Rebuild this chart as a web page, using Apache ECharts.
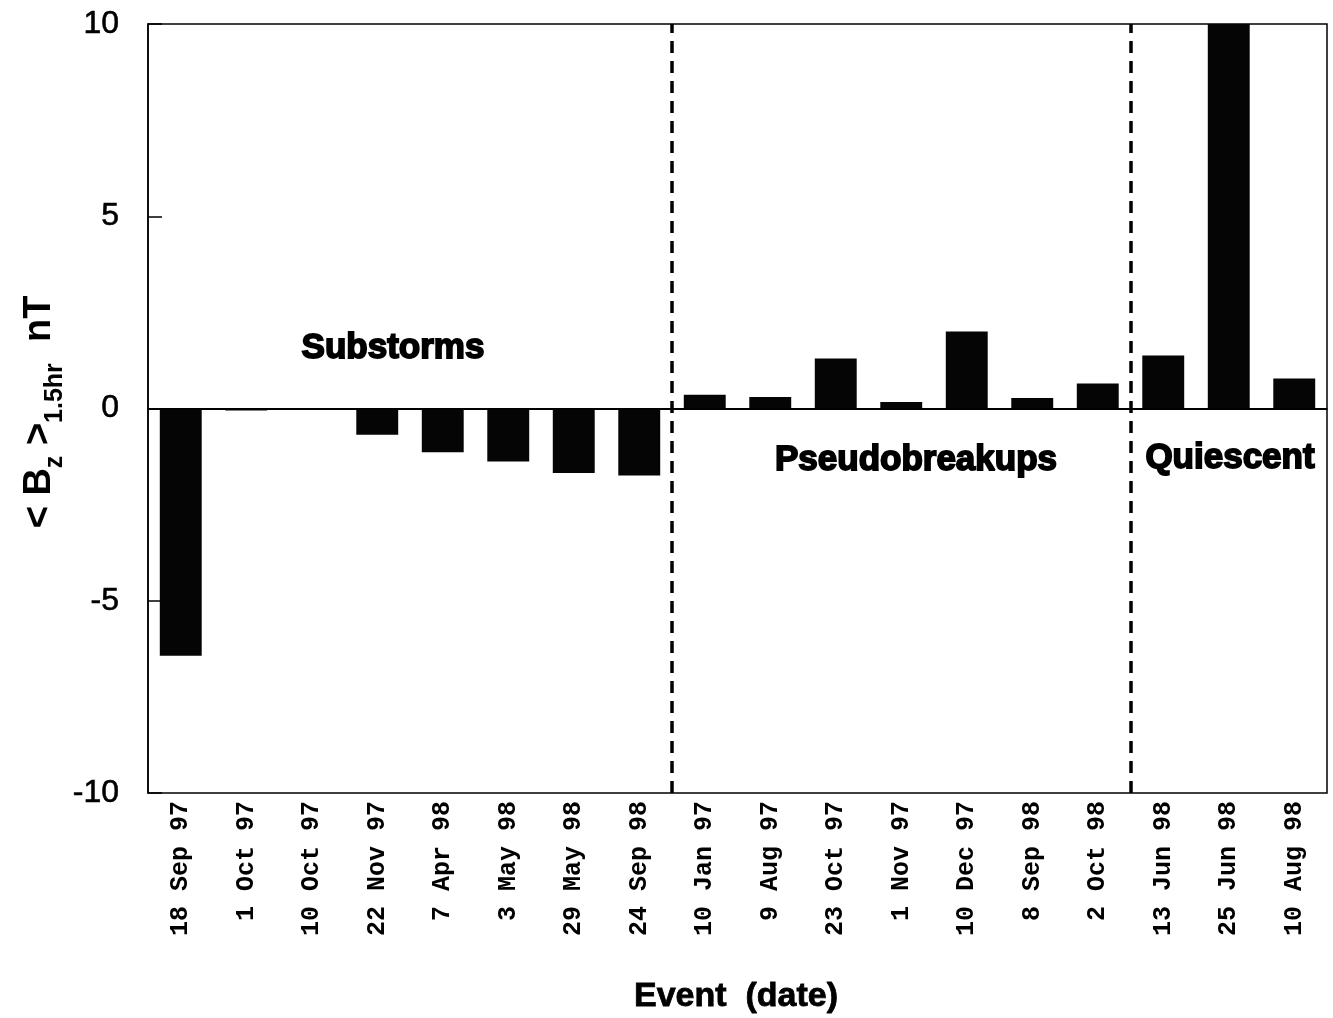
<!DOCTYPE html>
<html>
<head>
<meta charset="utf-8">
<script src="https://cdn.jsdelivr.net/npm/echarts@6/dist/echarts.min.js"></script>
<style>
  html, body { margin: 0; padding: 0; background: #fff; }
  #chart { width: 1333px; height: 1018px; }
</style>
</head>
<body>
<div id="chart"></div>
<script>
// Event dates, grouped as substorms / pseudobreakups / quiescent periods
const events = [
  '18 Sep 97', '1 Oct 97', '10 Oct 97', '22 Nov 97', '7 Apr 98', '3 May 98',
  '29 May 98', '24 Sep 98',
  '10 Jan 97', '9 Aug 97', '23 Oct 97', '1 Nov 97', '10 Dec 97', '8 Sep 98',
  '2 Oct 98',
  '13 Jun 98', '25 Jun 98', '10 Aug 98'
];
// Mean Bz over 1.5 hr (nT); 25 Jun 98 runs off the top of the scale
const bzMean = [
  -6.43, -0.05, 0.0, -0.68, -1.14, -1.38, -1.68, -1.74,
  0.36, 0.3, 1.3, 0.17, 2.0, 0.27, 0.65,
  1.38, 10.5, 0.78
];
// Group boundaries, in category-count units along the axis
const groupBreaks = [8, 15];
const groupNames = ['Substorms', 'Pseudobreakups', 'Quiescent'];
const yTicks = { min: -10, max: 10, step: 5 };

const chart = echarts.init(document.getElementById('chart'));

const heavy = {
  fontFamily: 'Liberation Sans, Arial, sans-serif',
  fontWeight: 'bold',
  fontSize: 35,
  fill: '#000',
  stroke: '#000',
  lineWidth: 1.8
};

function groupLabel(text, x, y) {
  return {
    type: 'text', x: x, y: y,
    style: Object.assign({ text: text, align: 'center', verticalAlign: 'middle' }, heavy)
  };
}

chart.setOption({
  animation: false,
  backgroundColor: '#fff',
  grid: {
    left: 148, right: 6, top: 24, bottom: 225,
    show: true, borderColor: '#000', borderWidth: 1.5
  },
  xAxis: [
    {
      type: 'category',
      data: events,
      axisLine: { lineStyle: { color: '#000', width: 1.5 } },
      axisTick: { show: false },
      axisLabel: {
        interval: 0,
        rotate: 90,
        margin: 8,
        color: '#000',
        fontFamily: 'Liberation Mono, Courier New, monospace',
        fontWeight: 'bold',
        fontSize: 25
      }
    },
    {
      type: 'value',
      min: 0,
      max: events.length,
      show: false
    }
  ],
  yAxis: {
    type: 'value',
    min: yTicks.min,
    max: yTicks.max,
    interval: yTicks.step,
    axisLine: { show: true, lineStyle: { color: '#000', width: 1.5 } },
    axisTick: { show: true, inside: true, length: 14, lineStyle: { color: '#000', width: 1.5 } },
    splitLine: { show: false },
    axisLabel: {
      margin: 29,
      color: '#000',
      fontFamily: 'Liberation Sans, Arial, sans-serif',
      fontSize: 32,
      textBorderColor: '#000',
      textBorderWidth: 0.6
    }
  },
  series: [
    {
      type: 'bar',
      data: bzMean,
      barWidth: '64%',
      itemStyle: { color: '#050505' },
      markLine: {
        silent: true,
        symbol: 'none',
        label: { show: false },
        lineStyle: { color: '#000', width: 2, type: 'solid' },
        data: [{ yAxis: 0 }]
      }
    },
    {
      type: 'line',
      xAxisIndex: 1,
      data: [],
      markLine: {
        silent: true,
        symbol: 'none',
        label: { show: false },
        lineStyle: { color: '#000', width: 3.5, type: [12, 8] },
        data: groupBreaks.map(b => ({ xAxis: b }))
      }
    }
  ],
  graphic: [
    groupLabel(groupNames[0], 393, 348),
    groupLabel(groupNames[1], 916, 460),
    groupLabel(groupNames[2], 1230, 458),
    {
      type: 'text', x: 736, y: 997,
      style: {
        text: 'Event  (date)', align: 'center', verticalAlign: 'middle',
        fontFamily: 'Liberation Sans, Arial, sans-serif', fontWeight: 'bold',
        fontSize: 34, fill: '#000', stroke: '#000', lineWidth: 0.8
      }
    },
    {
      type: 'text', x: 40, y: 412, rotation: Math.PI / 2,
      style: {
        text: '{m|< B}{s|z}{m| >}{s|1.5hr}{m|  nT}',
        align: 'center', verticalAlign: 'middle',
        fill: '#000',
        rich: {
          m: { fontFamily: 'Liberation Sans, Arial, sans-serif', fontWeight: 'bold',
               fontSize: 38, lineHeight: 56, verticalAlign: 'middle', fill: '#000' },
          s: { fontFamily: 'Liberation Sans, Arial, sans-serif', fontWeight: 'bold',
               fontSize: 25, lineHeight: 56, verticalAlign: 'bottom', fill: '#000' }
        }
      }
    }
  ]
});
</script>
</body>
</html>
